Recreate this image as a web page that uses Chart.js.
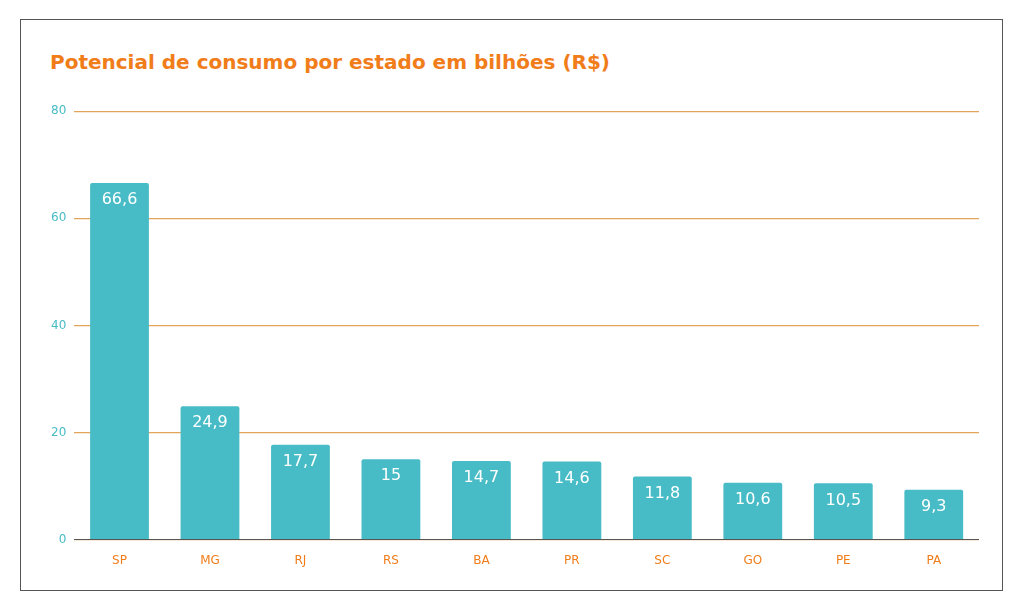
<!DOCTYPE html>
<html><head><meta charset="utf-8">
<script src="https://cdn.jsdelivr.net/npm/chart.js@4"></script>
<style>
html,body{margin:0;padding:0;background:#fff;}
#box{position:absolute;left:20px;top:19px;width:983px;height:572px;border:1px solid #555;box-sizing:border-box;}
#title{position:absolute;left:29px;top:30px;font-family:Verdana,"DejaVu Sans",sans-serif;font-weight:bold;font-size:20px;color:#F07D1A;}
#wrap{position:absolute;left:22px;top:76px;width:936px;height:478px;}
</style></head><body>
<div id="box"><div id="title">Potencial de consumo por estado em bilhões (R$)</div>
<div id="wrap"><canvas id="c"></canvas></div></div>
<script>
const categories=["SP","MG","RJ","RS","BA","PR","SC","GO","PE","PA"];
const values=[66.6,24.9,17.7,15,14.7,14.6,11.8,10.6,10.5,9.3];
const labelPlugin={id:'lbl',afterDatasetsDraw(ch){const ctx=ch.ctx;const m=ch.getDatasetMeta(0);
ctx.save();ctx.fillStyle='#fff';ctx.font='16px "DejaVu Sans",sans-serif';ctx.textAlign='center';ctx.textBaseline='top';
m.data.forEach((b,i)=>{ctx.fillText(String(values[i]).replace('.',','),b.x,b.y+9);});ctx.restore();}};
new Chart(document.getElementById('c'),{type:'bar',
data:{labels:categories,datasets:[{data:values,backgroundColor:'#48BCC6',borderRadius:{topLeft:2,topRight:2},categoryPercentage:0.65,barPercentage:1}]},
options:{responsive:true,maintainAspectRatio:false,animation:false,
layout:{padding:{left:0,right:0,top:6,bottom:0}},
plugins:{legend:{display:false},tooltip:{enabled:false}},
scales:{y:{min:0,max:80,ticks:{stepSize:20,color:'#48BCC6',font:{size:12,family:'"DejaVu Sans",sans-serif'},padding:8},
grid:{color:'#E3A55C',lineWidth:1.3,drawTicks:false},border:{display:false}},
x:{ticks:{color:'#F07D1A',font:{size:12,family:'"DejaVu Sans",sans-serif'},padding:6},grid:{display:false},border:{color:'#555',width:1}}}},
plugins:[labelPlugin]});
</script></body></html>
